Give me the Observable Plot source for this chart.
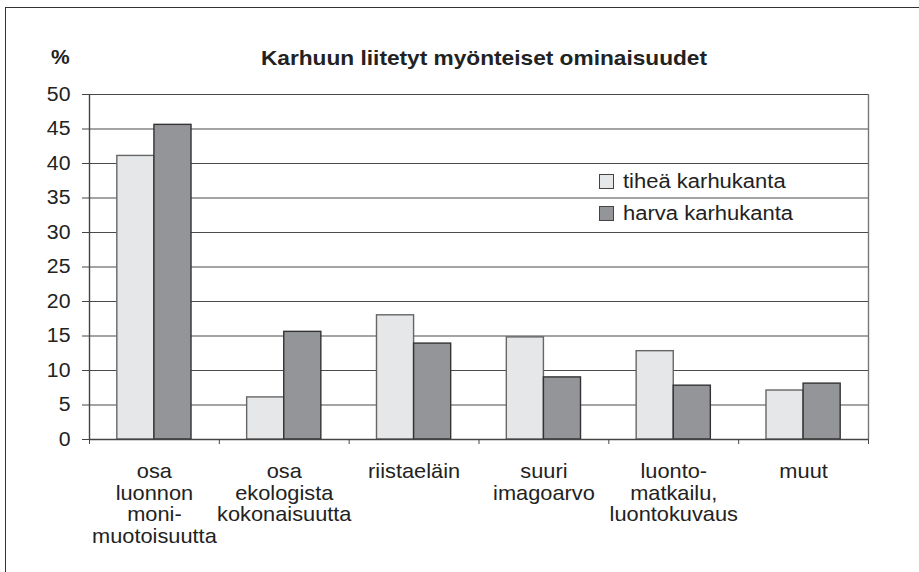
<!DOCTYPE html>
<html>
<head>
<meta charset="utf-8">
<script src="https://cdn.jsdelivr.net/npm/d3@7"></script>
<script src="https://cdn.jsdelivr.net/npm/@observablehq/plot@0.6"></script>
<style>
  html, body { margin: 0; padding: 0; background: #fff; overflow: hidden; }
  #wrap { position: relative; width: 919px; height: 572px; overflow: hidden; font-family: "Liberation Sans", Arial, sans-serif; color: #222; }
  #frame { position: absolute; left: 5px; top: 7px; width: 1000px; height: 1000px; border-left: 1.5px solid #333; border-top: 1.5px solid #333; }
  #title { position: absolute; left: 184px; width: 600px; top: 47px; text-align: center; font-weight: bold; font-size: 21px; line-height: 21px; transform: scaleX(1.08); transform-origin: center; }
  #pct { position: absolute; right: 849px; top: 47px; font-weight: bold; font-size: 20px; line-height: 21px; transform: scaleX(1.05); transform-origin: right; }
  .leg { position: absolute; left: 599px; font-size: 20px; line-height: 20px; white-space: nowrap; }
  .leg .sw { position: absolute; left: 0; top: 3px; width: 13px; height: 13px; border: 1.5px solid #444; }
  .leg .lab { position: absolute; left: 24px; top: 0; transform: scaleX(1.1); transform-origin: left; }
  svg { position: absolute; left: 0; top: 0; }
</style>
</head>
<body>
<div id="wrap">
  <div id="frame"></div>
  <div id="pct">%</div>
  <div id="title"></div>
  <div id="chart"></div>
  <div id="legend"></div>
</div>
<script>
const title = "Karhuun liitetyt myönteiset ominaisuudet";
const categories = [
  "osa\nluonnon\nmoni-\nmuotoisuutta",
  "osa\nekologista\nkokonaisuutta",
  "riistaeläin",
  "suuri\nimagoarvo",
  "luonto-\nmatkailu,\nluontokuvaus",
  "muut"
];
const seriesNames = ["tiheä karhukanta", "harva karhukanta"];
const tihea = [41.1, 6.1, 18.0, 14.8, 12.8, 7.1];
const harva = [45.6, 15.6, 13.9, 9.0, 7.8, 8.1];
const yTicks = [0, 5, 10, 15, 20, 25, 30, 35, 40, 45, 50];
const colors = ["#e6e7e8", "#939598"];
const strokes = ["#666", "#333"];

document.getElementById("title").textContent = title;

// Excel-style clustered columns: gap width 150% of a bar
const gapWidth = 1.5;
const barW = 1 / (2 + gapWidth);
const edge = (1 - 2 * barW) / 2;

const rows = [];
categories.forEach((c, i) => {
  [tihea, harva].forEach((vals, s) => {
    rows.push({
      cat: c,
      series: seriesNames[s],
      value: vals[i],
      x1: i + edge + s * barW,
      x2: i + edge + (s + 1) * barW
    });
  });
});

const n = categories.length;
const chart = Plot.plot({
  width: 919,
  height: 572,
  marginLeft: 89,
  marginRight: 51,
  marginTop: 94,
  marginBottom: 133,
  style: { fontFamily: "'Liberation Sans', Arial, sans-serif", color: "#222", background: "transparent" },
  x: { type: "linear", domain: [0, n], axis: null },
  y: { domain: [0, 50], axis: null },
  color: { domain: seriesNames, range: colors },
  marks: [
    Plot.ruleY(yTicks.filter(t => t > 0), { stroke: "#4a4a4a", strokeWidth: 1.2 }),
    Plot.rectY(rows, {
      x1: "x1", x2: "x2", y: "value",
      fill: "series",
      stroke: d => strokes[seriesNames.indexOf(d.series)],
      strokeWidth: 1.4
    }),
    Plot.ruleY([0], { stroke: "#444", strokeWidth: 1.4 }),
    Plot.ruleX([0], { stroke: "#444", strokeWidth: 1.4 }),
    Plot.ruleX([n], { stroke: "#777", strokeWidth: 1.4 }),
    Plot.axisY({ ticks: yTicks, label: null, tickSize: 7, tickPadding: 12, fontSize: 19.5, stroke: "#444", tickFormat: d => String(d) }),
    Plot.axisX({ ticks: d3.range(0, n + 1), label: null, tickSize: 5, tickFormat: () => "", stroke: "#444" }),
    Plot.text(categories, {
      x: (d, i) => i + 0.5,
      y: () => 0,
      text: d => d,
      lineAnchor: "top",
      dy: 23,
      fontSize: 20,
      lineHeight: 1.085,
      fill: "#222"
    })
  ]
});

// the source image is slightly wider than tall in its lettering: stretch text about its anchor
const stretch = 1.09;
chart.querySelectorAll("text").forEach(t => {
  const tr = t.getAttribute("transform") || "";
  const x = +(t.getAttribute("x") || 0);
  t.setAttribute("transform", `${tr} translate(${x},0) scale(${stretch},1) translate(${-x},0)`);
});
document.getElementById("chart").appendChild(chart);

const legend = document.getElementById("legend");
const legTops = [171, 203];
seriesNames.forEach((name, s) => {
  const item = document.createElement("div");
  item.className = "leg";
  item.style.top = legTops[s] + "px";
  const sw = document.createElement("div");
  sw.className = "sw";
  sw.style.background = colors[s];
  const lab = document.createElement("div");
  lab.className = "lab";
  lab.textContent = name;
  item.appendChild(sw);
  item.appendChild(lab);
  legend.appendChild(item);
});
</script>
</body>
</html>
